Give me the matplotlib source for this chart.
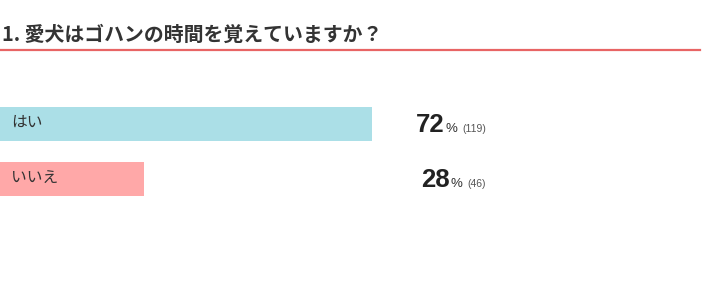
import matplotlib
matplotlib.use("Agg")
import matplotlib.pyplot as plt
from matplotlib.lines import Line2D

plt.rcParams['font.family'] = ['Noto Sans CJK JP', 'DejaVu Sans']

title = "1. 愛犬はゴハンの時間を覚えていますか？"
answers = ["はい", "いいえ"]
percents = [72, 28]
counts = [119, 46]
colors = ["#abdfe7", "#ffa8a8"]

W, H = 710, 302
fig = plt.figure(figsize=(W / 100, H / 100), dpi=100)

# bars: 100% = ~516 px, bar centres at 124 and 179 px from top, 55 px apart
ax = fig.add_axes([0, 0, 1, 1])
ax.set_xlim(0, 100 * W / 516)
ax.set_ylim((H - 124) / 55, -124 / 55)
ax.axis("off")

ys = list(range(len(answers)))
ax.barh(ys, percents, height=34 / 55, color=colors, edgecolor="none")

for y, a in zip(ys, answers):
    ax.text(11 * 100 / 516, y - 2 / 55, a, fontsize=11.3, color="#333333", va="center", ha="left")

# title and red underline
fig.text(2 / W, 1 - 34 / H, title, fontsize=14.3, fontweight="bold", color="#333333",
         va="center", ha="left")
fig.add_artist(Line2D([0, 700 / W], [1 - 50 / H, 1 - 50 / H], color="#e86565", lw=1.6,
                      transform=fig.transFigure))

# value labels, right-aligned group ending at x=486 px
fig.canvas.draw()
r = fig.canvas.get_renderer()
for y, p, c in zip(ys, percents, counts):
    yb = y + 8 / 55
    xr = 486
    t3 = ax.text(xr * 100 / 516, yb, f"({c})", fontsize=7.5, color="#555555", va="baseline",
                 ha="right", family=["Liberation Sans", "DejaVu Sans"])
    w3 = t3.get_window_extent(r).width
    xr -= w3 + 5
    t2 = ax.text(xr * 100 / 516, yb, "%", fontsize=9.5, color="#333333", va="baseline", ha="right",
                 family=["Liberation Sans", "DejaVu Sans"])
    w2 = t2.get_window_extent(r).width
    xr -= w2 + 1
    ax.text(xr * 100 / 516, yb, str(p), fontsize=18.5, fontweight="bold", color="#222222",
            va="baseline", ha="right", family=["Liberation Sans", "DejaVu Sans"])

fig.savefig("out.png", dpi=100)
